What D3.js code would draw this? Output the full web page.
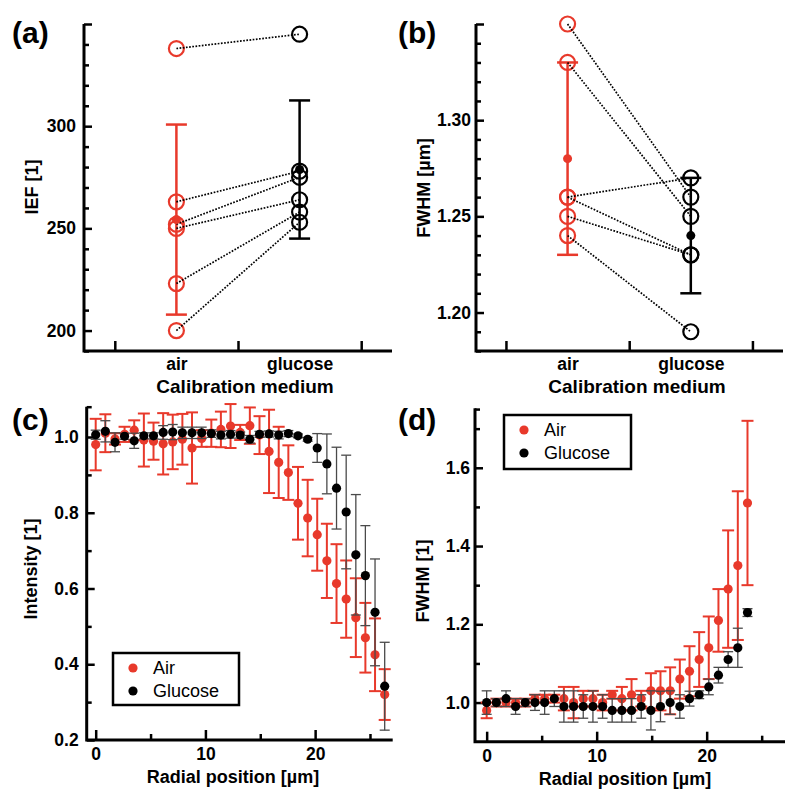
<!DOCTYPE html>
<html>
<head>
<meta charset="utf-8">
<script src="https://cdn.jsdelivr.net/npm/d3@7"></script>
<style>
body { margin: 0; background: #fff; }
text { font-family: "Liberation Sans", Arial, sans-serif; }
</style>
</head>
<body>
<div id="chart"></div>
<script>
const RED = `#e8392b`;

// (a) IEF per calibration medium, paired samples
const mediumCats = [`air`, `glucose`];
const iefAir = [338, 263, 252, 250, 223, 200];
const iefGlucose = [345, 278, 275, 264, 258, 253];
const iefMean = [254.3, 278.8];
const iefSd = [46.5, 33.8];
const iefMajor = [200, 250, 300, 350];
const iefMinor = [190, 210, 220, 230, 240, 260, 270, 280, 290, 310, 320, 330, 340];

// (b) FWHM per calibration medium, paired samples
const fwhmAir = [1.35, 1.33, 1.26, 1.26, 1.25, 1.24];
const fwhmGlucose = [1.26, 1.25, 1.27, 1.23, 1.23, 1.19];
const fwhmMean = [1.28, 1.24];
const fwhmSd = [0.05, 0.03];
const fwhmMajor = [1.20, 1.25, 1.30, 1.35];
const fwhmMinor = [1.18, 1.19, 1.21, 1.22, 1.23, 1.24, 1.26, 1.27, 1.28, 1.29, 1.31, 1.32, 1.33, 1.34];

// (c)/(d) radial profiles
const radialPos = [0, 0.88, 1.76, 2.63, 3.51, 4.39, 5.27, 6.15, 7.02, 7.90, 8.78, 9.66, 10.54, 11.41, 12.29,
  13.17, 14.05, 14.93, 15.80, 16.68, 17.56, 18.44, 19.32, 20.19, 21.07, 21.95, 22.83, 23.71, 24.58, 25.46, 26.34];

const intAir = [0.98, 1.01, 0.995, 1.007, 1.018, 0.992, 0.989, 0.982, 0.987, 0.994, 0.971, 0.996, 1.01, 1.02, 1.029,
  1.012, 1.03, 1.005, 0.962, 0.933, 0.906, 0.825, 0.786, 0.742, 0.673, 0.613, 0.572, 0.523, 0.47, 0.425, 0.32];
const intAirErr = [0.068, 0.05, 0.015, 0.02, 0.026, 0.07, 0.049, 0.081, 0.072, 0.067, 0.094, 0.022, 0.036, 0.047, 0.058,
  0.02, 0.048, 0.05, 0.11, 0.094, 0.072, 0.096, 0.101, 0.095, 0.098, 0.104, 0.102, 0.104, 0.092, 0.096, 0.067];
const intGlucose = [1.006, 1.015, 0.986, 1.002, 0.99, 1.003, 1.003, 1.012, 1.013, 1.011, 1.011, 1.011, 1.009, 1.005, 1.007,
  1.005, 0.994, 1.007, 1.008, 1.005, 1.009, 1.003, 0.994, 0.971, 0.929, 0.865, 0.802, 0.689, 0.634, 0.537, 0.342];
const intGlucoseErr = [0.012, 0.028, 0.025, 0.008, 0.02, 0.008, 0.008, 0.018, 0.02, 0.015, 0.015, 0.015, 0.01, 0.01, 0.01,
  0.008, 0.01, 0.008, 0.008, 0.01, 0.008, 0.005, 0.005, 0.038, 0.079, 0.108, 0.15, 0.159, 0.132, 0.141, 0.116];
const intMajor = [0.2, 0.4, 0.6, 0.8, 1.0];
const intMinor = [0.3, 0.5, 0.7, 0.9, 1.08];

const profAir = [0.98, 1.0, 1.0, 1.0, 1.0, 1.01, 1.01, 1.01, 1.01, 1.0, 1.01, 1.01, 1.0, 1.02,
  1.01, 1.02, 1.01, 1.03, 1.03, 1.03, 1.06, 1.08, 1.11, 1.14, 1.21, 1.29, 1.35, 1.51];
const profAirErr = [0.02, 0.01, 0.01, 0.01, 0.01, 0.01, 0.01, 0.01, 0.03, 0.04, 0.02, 0.02, 0.02, 0.01,
  0.03, 0.04, 0.02, 0.045, 0.05, 0.06, 0.05, 0.064, 0.07, 0.08, 0.08, 0.15, 0.19, 0.21];
const profGlucose = [1.0, 1.0, 1.01, 0.99, 1.0, 1.0, 1.0, 1.01, 0.99, 0.99, 0.99, 0.99, 0.99, 0.98,
  0.98, 0.98, 0.99, 0.98, 0.99, 1.0, 0.99, 1.01, 1.02, 1.04, 1.07, 1.11, 1.14, 1.23];
const profGlucoseErr = [0.03, 0.01, 0.02, 0.02, 0.01, 0.02, 0.03, 0.02, 0.04, 0.04, 0.03, 0.04, 0.03, 0.03,
  0.03, 0.03, 0.03, 0.05, 0.039, 0.03, 0.03, 0.019, 0.01, 0.02, 0.02, 0.02, 0.05, 0.01];
const profMajor = [1.0, 1.2, 1.4, 1.6];
const profMinor = [1.1, 1.3, 1.5, 1.7, 1.75];

const posMajor = [0, 10, 20];
const posMinor = [5, 15, 25];
const catTicks = [0, 1, 2];
const legendNames = [`Air`, `Glucose`];

let svg = d3.select(`#chart`).append(`svg`)
  .attr(`width`, 800)
  .attr(`height`, 803);

function scales(box, xDomain, yDomain) {
  return {
    x: d3.scaleLinear().domain(xDomain).range([box.left, box.right]),
    y: d3.scaleLinear().domain(yDomain).range([box.bottom, box.top])
  };
}

function styleAxis(g) {
  g.select(`.domain`).remove();
  g.selectAll(`line`).attr(`stroke`, `#000`).attr(`stroke-width`, 2.5);
  g.selectAll(`text`)
    .attr(`fill`, `#000`)
    .style(`font-size`, `17.5px`)
    .style(`font-weight`, `bold`)
    .style(`font-family`, `"Liberation Sans", Arial, sans-serif`);
}

function drawAxes(box, sc, o) {
  let g = svg.append(`g`);
  // y major + minor, ticks inward
  g.append(`g`).attr(`transform`, `translate(${box.left},0)`)
    .call(d3.axisLeft(sc.y).tickValues(o.yMajor).tickSize(-8).tickPadding(o.yPad).tickFormat(o.yFmt))
    .call(styleAxis);
  g.append(`g`).attr(`transform`, `translate(${box.left},0)`)
    .call(d3.axisLeft(sc.y).tickValues(o.yMinor).tickSize(-5).tickFormat(``))
    .call(styleAxis);
  // x major + minor
  g.append(`g`).attr(`transform`, `translate(0,${box.bottom})`)
    .call(d3.axisBottom(sc.x).tickValues(o.xMajor).tickSize(-10).tickPadding(o.xPad).tickFormat(o.xFmt))
    .call(styleAxis);
  if (o.xMinor) {
    g.append(`g`).attr(`transform`, `translate(0,${box.bottom})`)
      .call(d3.axisBottom(sc.x).tickValues(o.xMinor).tickSize(-6).tickFormat(``))
      .call(styleAxis);
  }
  if (o.xLabels) {
    g.append(`g`).attr(`transform`, `translate(0,${box.bottom})`)
      .call(d3.axisBottom(sc.x).tickValues(o.xLabels.map((d, i) => i + 0.5)).tickSize(0).tickPadding(o.xPad)
        .tickFormat((d, i) => o.xLabels[i]))
      .call(styleAxis);
  }
  // drop empty tick texts
  g.selectAll(`text`).filter(function () { return this.textContent === ``; }).remove();
  // axis lines
  g.append(`path`)
    .attr(`d`, `M${box.left},${box.top}V${box.bottom}H${box.right}`)
    .attr(`fill`, `none`).attr(`stroke`, `#000`).attr(`stroke-width`, 3)
    .attr(`stroke-linejoin`, `miter`);
  // titles
  svg.append(`text`)
    .attr(`transform`, `translate(${o.yTitle[0]},${o.yTitle[1]}) rotate(-90)`)
    .attr(`text-anchor`, `middle`).attr(`dominant-baseline`, `central`)
    .style(`font-size`, `18px`).style(`font-weight`, `bold`)
    .text(o.yText);
  svg.append(`text`)
    .attr(`x`, o.xTitle[0]).attr(`y`, o.xTitle[1])
    .attr(`text-anchor`, `middle`)
    .style(`font-size`, `${o.xTitleSize}px`).style(`font-weight`, `bold`)
    .text(o.xText);
  svg.append(`text`)
    .attr(`x`, o.panel[0]).attr(`y`, o.panel[1])
    .style(`font-size`, `30px`).style(`font-weight`, `bold`)
    .text(o.panelText);
}

function pairedPanel(box, xDomain, yDomain, air, glucose, mean, sd, o) {
  let sc = scales(box, xDomain, yDomain);
  drawAxes(box, sc, o);
  let g = svg.append(`g`);
  let colors = [RED, `#000`];
  let groups = [air, glucose];

  // mean +- sd error bars
  mean.forEach((m, i) => {
    let cx = sc.x(i + 0.5);
    g.append(`line`).attr(`x1`, cx).attr(`x2`, cx)
      .attr(`y1`, sc.y(m - sd[i])).attr(`y2`, sc.y(m + sd[i]))
      .attr(`stroke`, colors[i]).attr(`stroke-width`, 2.5);
    [m - sd[i], m + sd[i]].forEach(v => {
      g.append(`line`).attr(`x1`, cx - 10.5).attr(`x2`, cx + 10.5)
        .attr(`y1`, sc.y(v)).attr(`y2`, sc.y(v))
        .attr(`stroke`, colors[i]).attr(`stroke-width`, 2.5);
    });
  });

  // open circles for every sample
  groups.forEach((vals, i) => {
    g.selectAll(null).data(vals).enter().append(`circle`)
      .attr(`cx`, sc.x(i + 0.5))
      .attr(`cy`, d => sc.y(d))
      .attr(`r`, 7.5)
      .attr(`fill`, `none`)
      .attr(`stroke`, colors[i])
      .attr(`stroke-width`, 2.2);
  });

  // dotted pairing lines
  g.selectAll(null).data(air).enter().append(`line`)
    .attr(`x1`, sc.x(0.5)).attr(`x2`, sc.x(1.5))
    .attr(`y1`, d => sc.y(d))
    .attr(`y2`, (d, i) => sc.y(glucose[i]))
    .attr(`stroke`, `#000`).attr(`stroke-width`, 1.7)
    .attr(`stroke-dasharray`, `1.7,1.5`);

  // means
  g.selectAll(null).data(mean).enter().append(`circle`)
    .attr(`cx`, (d, i) => sc.x(i + 0.5))
    .attr(`cy`, d => sc.y(d))
    .attr(`r`, 4.5)
    .attr(`fill`, (d, i) => colors[i]);
}

function errorSeries(g, sc, xs, vals, errs, color, barColor, barW, capW) {
  vals.forEach((v, i) => {
    let cx = sc.x(xs[i]);
    g.append(`line`).attr(`x1`, cx).attr(`x2`, cx)
      .attr(`y1`, sc.y(v - errs[i])).attr(`y2`, sc.y(v + errs[i]))
      .attr(`stroke`, barColor).attr(`stroke-width`, barW);
    [v - errs[i], v + errs[i]].forEach(e => {
      g.append(`line`).attr(`x1`, cx - capW).attr(`x2`, cx + capW)
        .attr(`y1`, sc.y(e)).attr(`y2`, sc.y(e))
        .attr(`stroke`, barColor).attr(`stroke-width`, barW);
    });
  });
  g.selectAll(null).data(vals).enter().append(`circle`)
    .attr(`cx`, (d, i) => sc.x(xs[i]))
    .attr(`cy`, d => sc.y(d))
    .attr(`r`, 4.6)
    .attr(`fill`, color);
}

function legend(x, y, w, h) {
  let g = svg.append(`g`).attr(`transform`, `translate(${x},${y})`);
  g.append(`rect`).attr(`width`, w).attr(`height`, h)
    .attr(`fill`, `#fff`).attr(`stroke`, `#000`).attr(`stroke-width`, 2.5);
  legendNames.forEach((name, i) => {
    g.append(`circle`).attr(`cx`, 20).attr(`cy`, 15 + i * 23).attr(`r`, 4.6)
      .attr(`fill`, i === 0 ? RED : `#000`);
    g.append(`text`).attr(`x`, 40).attr(`y`, 15 + i * 23)
      .attr(`dominant-baseline`, `central`)
      .style(`font-size`, `18px`)
      .text(name);
  });
}

function profilePanel(box, xDomain, yDomain, n, air, airErr, glu, gluErr, o, leg) {
  let sc = scales(box, xDomain, yDomain);
  drawAxes(box, sc, o);
  let g = svg.append(`g`);
  let xs = radialPos.slice(0, n);
  errorSeries(g, sc, xs, air, airErr, RED, RED, 2, 6);
  errorSeries(g, sc, xs, glu, gluErr, `#000`, `#4a4a4a`, 1.3, 5);
  legend(leg[0], leg[1], leg[2], leg[3]);
}

// (a)
pairedPanel({left: 84, top: 24, right: 392, bottom: 351}, [-0.25, 2.25], [190, 350],
  iefAir, iefGlucose, iefMean, iefSd, {
    yMajor: iefMajor, yMinor: iefMinor, yPad: 8, yFmt: d => d === 350 ? `` : d,
    xMajor: catTicks, xPad: 7, xFmt: ``, xLabels: mediumCats,
    yTitle: [32, 187], yText: `IEF [1]`,
    xTitle: [245, 393], xText: `Calibration medium`, xTitleSize: 19,
    panel: [12, 43], panelText: `(a)`
  });

// (b)
pairedPanel({left: 476, top: 24, right: 783, bottom: 351}, [-0.243, 2.248], [1.18, 1.35],
  fwhmAir, fwhmGlucose, fwhmMean, fwhmSd, {
    yMajor: fwhmMajor, yMinor: fwhmMinor, yPad: 5, yFmt: d => d === 1.35 ? `` : d.toFixed(2),
    xMajor: catTicks, xPad: 7, xFmt: ``, xLabels: mediumCats,
    yTitle: [424, 188], yText: `FWHM [µm]`,
    xTitle: [637, 393], xText: `Calibration medium`, xTitleSize: 19,
    panel: [398, 43], panelText: `(b)`
  });

// (c)
profilePanel({left: 86.7, top: 406.7, right: 392.7, bottom: 740}, [-0.82, 27.07], [0.2, 1.08], 31,
  intAir, intAirErr, intGlucose, intGlucoseErr, {
    yMajor: intMajor, yMinor: intMinor, yPad: 8, yFmt: d3.format(`.1f`),
    xMajor: posMajor, xMinor: posMinor, xPad: 7.5, xFmt: d3.format(`d`),
    yTitle: [31, 569], yText: `Intensity [1]`,
    xTitle: [233, 783], xText: `Radial position [µm]`, xTitleSize: 18,
    panel: [12, 430], panelText: `(c)`
  }, [113, 653, 126, 52]);

// (d)
profilePanel({left: 475, top: 408.3, right: 785, bottom: 741.7}, [-1.06, 27.12], [0.9, 1.752], 28,
  profAir, profAirErr, profGlucose, profGlucoseErr, {
    yMajor: profMajor, yMinor: profMinor, yPad: 5, yFmt: d3.format(`.1f`),
    xMajor: posMajor, xMinor: posMinor, xPad: 7.5, xFmt: d3.format(`d`),
    yTitle: [423, 581], yText: `FWHM [1]`,
    xTitle: [625, 785], xText: `Radial position [µm]`, xTitleSize: 18,
    panel: [398, 430], panelText: `(d)`
  }, [504, 415, 127, 54]);
</script>
</body>
</html>
